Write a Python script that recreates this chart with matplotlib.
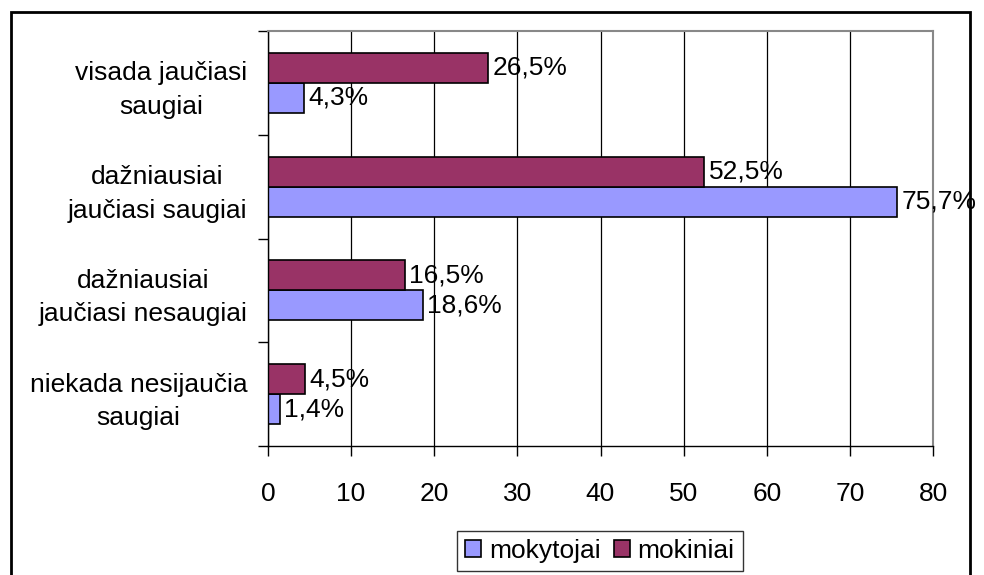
import matplotlib
matplotlib.use("Agg")
import matplotlib.pyplot as plt
from matplotlib.patches import Rectangle

plt.rcParams['font.family'] = ['Liberation Sans', 'DejaVu Sans']

# data, top to bottom as in the chart
categories = ["visada jaučiasi\nsaugiai",
              "dažniausiai\njaučiasi saugiai",
              "dažniausiai\njaučiasi nesaugiai",
              "niekada nesijaučia\nsaugiai"]
mokytojai = [4.3, 75.7, 18.6, 1.4]
mokiniai = [26.5, 52.5, 16.5, 4.5]
series_names = ["mokytojai", "mokiniai"]
xticks = [0, 10, 20, 30, 40, 50, 60, 70, 80]

c_blue = "#9999FF"
c_purple = "#993366"
fs = 19

fig = plt.figure(figsize=(9.84, 5.75), dpi=100)
ax = fig.add_axes([268 / 984, 1 - 446 / 575, (933 - 268) / 984, (446 - 31) / 575])

n = len(categories)
ypos = [n - 1 - i for i in range(n)]
h = 0.29

b1 = ax.barh([y - h / 2 for y in ypos], mokytojai, height=h, color=c_blue,
             edgecolor="black", linewidth=1.2, label=series_names[0], zorder=2)
b2 = ax.barh([y + h / 2 for y in ypos], mokiniai, height=h, color=c_purple,
             edgecolor="black", linewidth=1.2, label=series_names[1], zorder=2)

for y, v in zip(ypos, mokytojai):
    ax.text(v + 0.5, y - h / 2, f"{v:.1f}%".replace(".", ","), va="center",
            ha="left", fontsize=fs, zorder=3, clip_on=False)
for y, v in zip(ypos, mokiniai):
    ax.text(v + 0.5, y + h / 2, f"{v:.1f}%".replace(".", ","), va="center",
            ha="left", fontsize=fs, zorder=3, clip_on=False)

ax.set_xlim(0, 80)
ax.set_ylim(-0.5, n - 0.5)
ax.set_xticks(xticks)
ax.set_xticklabels([str(t) for t in xticks], fontsize=fs)
ax.tick_params(axis="x", direction="out", length=7, width=1, pad=19)

# boundary ticks on the y axis, labels at category centres
ax.set_yticks([k - 0.5 for k in range(n + 1)])
ax.set_yticklabels([])
ax.tick_params(axis="y", which="major", direction="out", length=7, width=1)
ax.set_yticks(ypos, minor=True)
ax.set_yticklabels(categories, minor=True, fontsize=fs, ma="center",
                   linespacing=1.5)
ax.tick_params(axis="y", which="minor", length=0, pad=15)

ax.xaxis.grid(True, color="black", linewidth=0.9, zorder=1)
ax.set_axisbelow(True)
for s in ["top", "right"]:
    ax.spines[s].set_color("#888888")
    ax.spines[s].set_linewidth(1.5)
for s in ["left", "bottom"]:
    ax.spines[s].set_color("black")
    ax.spines[s].set_linewidth(1)

leg = fig.legend(handles=[b1, b2], labels=series_names, loc="upper center",
                 bbox_to_anchor=(600 / 984, 1 - 531 / 575), ncol=2, fontsize=fs,
                 frameon=True, fancybox=False, edgecolor="black",
                 handlelength=0.6, handleheight=0.6, handletextpad=0.3,
                 columnspacing=0.5, borderpad=0.3, borderaxespad=0)
leg.get_frame().set_linewidth(1)

fig.patches.append(Rectangle((11 / 984, -0.1), (970 - 11) / 984, 1.1 - 12 / 575,
                             transform=fig.transFigure, fill=False,
                             edgecolor="black", linewidth=2))

fig.savefig("out.png", dpi=100)
